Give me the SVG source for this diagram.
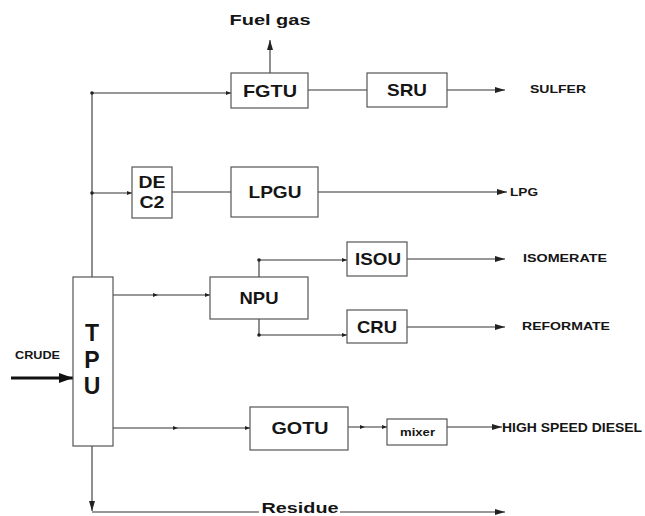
<svg xmlns="http://www.w3.org/2000/svg" width="645" height="516" viewBox="0 0 645 516">
<defs>
<style>
.box{fill:#fff;stroke:#555;stroke-width:1.2}
.ln{fill:none;stroke:#333;stroke-width:1.1}
.t{font-family:"Liberation Sans",Arial,sans-serif;fill:#151515;text-anchor:middle}
.s{font-family:"Liberation Sans",Arial,sans-serif;fill:#151515;text-anchor:start;font-weight:bold}
.u{font-size:17px;font-weight:bold}
.o{font-size:11.5px}
.dot{fill:#222}
</style>
<marker id="big" markerWidth="10" markerHeight="6" refX="10" refY="3" orient="auto" markerUnits="userSpaceOnUse"><path d="M0,0 L10,3 L0,6 Z" fill="#222"/></marker>
<marker id="sm" markerWidth="5" markerHeight="4" refX="5" refY="2" orient="auto" markerUnits="userSpaceOnUse"><path d="M0,0 L5,2 L0,4 Z" fill="#222"/></marker>
<marker id="thick" markerWidth="14" markerHeight="10" refX="14" refY="5" orient="auto" markerUnits="userSpaceOnUse"><path d="M0,0 L14,5 L0,10 Z" fill="#111"/></marker>
</defs>
<rect width="645" height="516" fill="#fff"/>
<g id="connectors">
<path class="ln" d="M92,277 V93 H231" marker-end="url(#sm)"/>
<path class="ln" d="M92,193 H132" marker-end="url(#sm)"/>
<path class="ln" d="M308,90 H367"/>
<path class="ln" d="M447,90 H505" marker-end="url(#big)"/>
<path class="ln" d="M270,73 V40" marker-end="url(#big)"/>
<path class="ln" d="M172,192 H231"/>
<path class="ln" d="M318,192 H507" marker-end="url(#big)"/>
<path class="ln" d="M113,295 H158 H210" marker-mid="url(#sm)" marker-end="url(#sm)"/>
<path class="ln" d="M259,277 V260 H347" marker-end="url(#sm)"/>
<path class="ln" d="M259,319 V335 H347" marker-end="url(#sm)"/>
<path class="ln" d="M407,259 H505" marker-end="url(#big)"/>
<path class="ln" d="M407,327 H505" marker-end="url(#big)"/>
<path fill="none" stroke="#111" stroke-width="3" d="M11,378 H73" marker-end="url(#thick)"/>
<path class="ln" d="M113,428 H178 H250" marker-mid="url(#sm)" marker-end="url(#sm)"/>
<path class="ln" d="M348,427 H365 H387" marker-mid="url(#sm)" marker-end="url(#sm)"/>
<path class="ln" d="M447,427 H502" marker-end="url(#big)"/>
<path class="ln" d="M92,446 V511" marker-end="url(#big)"/>
<path class="ln" d="M92,512 H259"/>
<path class="ln" d="M340,512 H505" marker-end="url(#big)"/>
<circle class="dot" cx="92" cy="93" r="1.8"/>
<circle class="dot" cx="92" cy="193" r="1.8"/>
<circle class="dot" cx="259" cy="260" r="1.8"/>
<circle class="dot" cx="259" cy="335" r="1.8"/>
</g>
<g id="TPU">
<rect class="box" x="73" y="277" width="40" height="169"/>
<text class="t" x="92" y="341" font-size="23" font-weight="bold">T</text>
<text class="t" x="92" y="368" font-size="23" font-weight="bold">P</text>
<text class="t" x="92" y="394" font-size="23" font-weight="bold">U</text>
</g>
<g id="FGTU"><rect class="box" x="231" y="73" width="77" height="35"/><text class="t u" x="270" y="97" textLength="54" lengthAdjust="spacingAndGlyphs">FGTU</text></g>
<g id="SRU"><rect class="box" x="367" y="73" width="80" height="34"/><text class="t u" x="407" y="96" textLength="40" lengthAdjust="spacingAndGlyphs">SRU</text></g>
<g id="DEC2"><rect class="box" x="132" y="167" width="40" height="51"/><text class="t u" x="152" y="188" textLength="27" lengthAdjust="spacingAndGlyphs">DE</text><text class="t u" x="152" y="208" textLength="25" lengthAdjust="spacingAndGlyphs">C2</text></g>
<g id="LPGU"><rect class="box" x="231" y="167" width="87" height="50"/><text class="t u" x="275" y="198" textLength="53" lengthAdjust="spacingAndGlyphs">LPGU</text></g>
<g id="NPU"><rect class="box" x="210" y="277" width="98" height="42"/><text class="t u" x="259" y="304" textLength="39" lengthAdjust="spacingAndGlyphs">NPU</text></g>
<g id="ISOU"><rect class="box" x="347" y="242" width="60" height="34"/><text class="t u" x="378" y="265" textLength="46" lengthAdjust="spacingAndGlyphs">ISOU</text></g>
<g id="CRU"><rect class="box" x="347" y="310" width="60" height="33"/><text class="t u" x="377" y="333" textLength="40" lengthAdjust="spacingAndGlyphs">CRU</text></g>
<g id="GOTU"><rect class="box" x="250" y="407" width="98" height="43"/><text class="t u" x="300" y="434" textLength="57" lengthAdjust="spacingAndGlyphs">GOTU</text></g>
<g id="mixer"><rect class="box" x="387" y="419" width="60" height="26"/><text class="s" x="400" y="436" font-size="11.5" textLength="35" lengthAdjust="spacingAndGlyphs">mixer</text></g>
<g id="labels">
<text class="t" x="270" y="25" font-size="15" font-weight="bold" textLength="81" lengthAdjust="spacingAndGlyphs">Fuel gas</text>
<text class="s o" x="530" y="93" textLength="56" lengthAdjust="spacingAndGlyphs">SULFER</text>
<text class="s o" x="510" y="196" textLength="28" lengthAdjust="spacingAndGlyphs">LPG</text>
<text class="s o" x="523" y="262" textLength="84" lengthAdjust="spacingAndGlyphs">ISOMERATE</text>
<text class="s o" x="522" y="330" textLength="88" lengthAdjust="spacingAndGlyphs">REFORMATE</text>
<text class="s" x="15" y="359" font-size="10" textLength="45" lengthAdjust="spacingAndGlyphs">CRUDE</text>
<text class="s" x="502" y="432" font-size="13" textLength="140" lengthAdjust="spacingAndGlyphs">HIGH SPEED DIESEL</text>
<text class="t" x="300" y="513" font-size="15.5" font-weight="bold" textLength="77" lengthAdjust="spacingAndGlyphs">Residue</text>
</g>
</svg>
